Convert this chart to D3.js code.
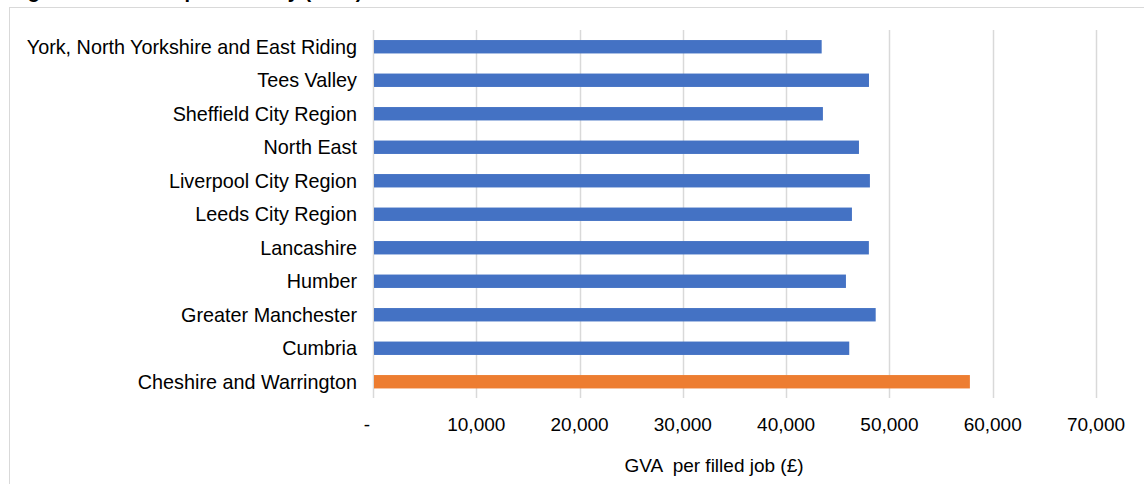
<!DOCTYPE html>
<html>
<head>
<meta charset="utf-8">
<script src="https://cdn.jsdelivr.net/npm/d3@7"></script>
<style>
  html, body { margin: 0; padding: 0; background: #fff; }
  svg { display: block; }
  text { font-family: "Liberation Sans", Arial, sans-serif; fill: #000; }
</style>
</head>
<body>
<svg id="chart" width="1144" height="484"></svg>
<script>
const categories = [
  "York, North Yorkshire and East Riding",
  "Tees Valley",
  "Sheffield City Region",
  "North East",
  "Liverpool City Region",
  "Leeds City Region",
  "Lancashire",
  "Humber",
  "Greater Manchester",
  "Cumbria",
  "Cheshire and Warrington"
];
const values = [43440, 48020, 43560, 47050, 48110, 46370, 48010, 45790, 48670, 46110, 57790];
const highlight = ["Cheshire and Warrington"];
const tickValues = [0, 10000, 20000, 30000, 40000, 50000, 60000, 70000];
const tickLabels = ["-", "10,000", "20,000", "30,000", "40,000", "50,000", "60,000", "70,000"];
const titleText = "Figure 10: Labour productivity (2016)";
const axisTitle = "GVA  per filled job (£)";

const svg = d3.select("#chart");

// title (cut off at the top, as in the reference)
svg.append("text").attr("x", 10).attr("y", -2)
  .attr("font-size", 20).attr("font-weight", "bold").text(titleText);

// chart border
svg.append("rect").attr("x", 9.5).attr("y", 7.5).attr("width", 1300).attr("height", 600)
  .attr("fill", "#fff").attr("stroke", "#D9D9D9").attr("stroke-width", 1);

const x = d3.scaleLinear().domain([0, 70000]).range([373, 1096]);
const y = d3.scaleBand().domain(categories).range([30, 398.5]).paddingInner(0.6).paddingOuter(0.3);

// gridlines
svg.append("g").selectAll("line").data(tickValues).join("line")
  .attr("x1", d => Math.round(x(d)) + 0.5).attr("x2", d => Math.round(x(d)) + 0.5)
  .attr("y1", 30).attr("y2", 398)
  .attr("stroke", "#D9D9D9").attr("stroke-width", 1.5);

// bars
svg.append("g").selectAll("rect").data(categories).join("rect")
  .attr("x", x(0) + 1)
  .attr("y", d => y(d))
  .attr("width", (d, i) => x(values[i]) - x(0) - 1)
  .attr("height", y.bandwidth())
  .attr("fill", d => highlight.includes(d) ? "#ED7D31" : "#4472C4");

// x tick labels
svg.append("g").selectAll("text").data(tickValues).join("text")
  .attr("x", (d, i) => x(d) - (i === 0 ? 6 : 0))
  .attr("y", 431)
  .attr("text-anchor", "middle")
  .attr("font-size", 19)
  .text((d, i) => tickLabels[i]);

// category labels
svg.append("g").selectAll("text").data(categories).join("text")
  .attr("x", 357)
  .attr("y", d => y(d) + y.bandwidth() / 2)
  .attr("dy", "0.36em")
  .attr("text-anchor", "end")
  .attr("font-size", 19.8)
  .text(d => d);

// axis title
svg.append("text").attr("x", 714).attr("y", 472)
  .attr("text-anchor", "middle").attr("font-size", 19)
  .style("white-space", "pre")
  .text(axisTitle);
</script>
</body>
</html>
